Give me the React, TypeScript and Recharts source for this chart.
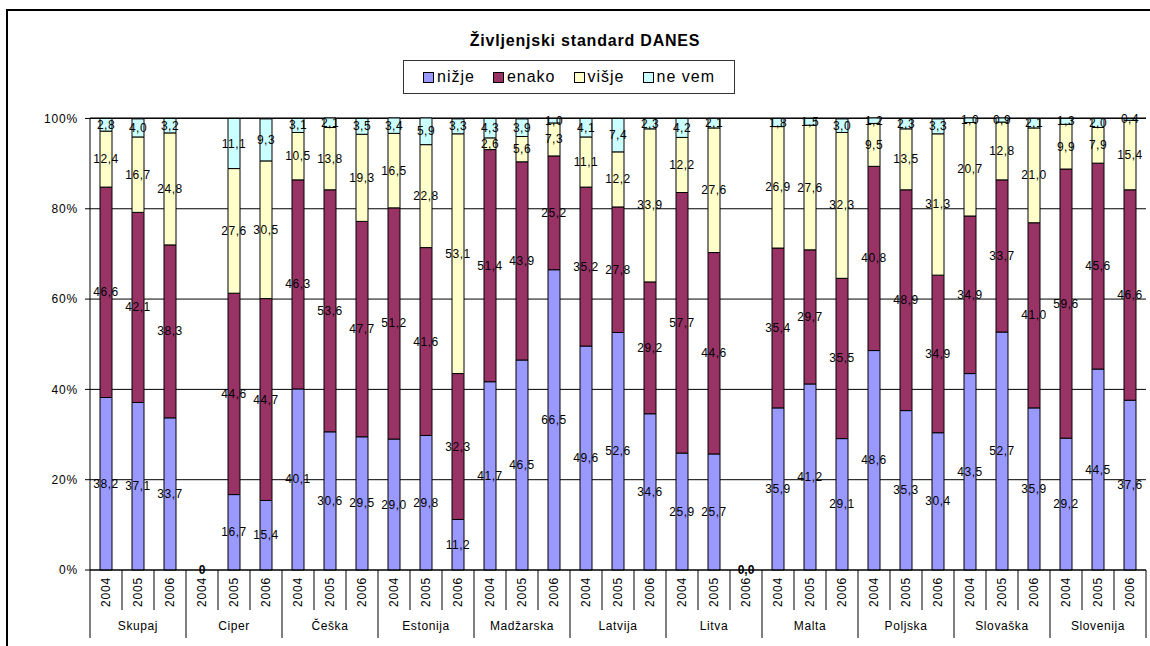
import React from "react";
import { Bar, BarChart, CartesianGrid, LabelList, XAxis, YAxis } from "recharts";

const groups = ["Skupaj", "Ciper", "Češka", "Estonija", "Madžarska", "Latvija", "Litva", "Malta", "Poljska", "Slovaška", "Slovenija"];
const years = ["2004", "2005", "2006"];

// one value per bar: group by group, years 2004-2006
const nizje = [38.2, 37.1, 33.7, 0, 16.7, 15.4, 40.1, 30.6, 29.5, 29.0, 29.8, 11.2, 41.7, 46.5, 66.5, 49.6, 52.6, 34.6, 25.9, 25.7, 0, 35.9, 41.2, 29.1, 48.6, 35.3, 30.4, 43.5, 52.7, 35.9, 29.2, 44.5, 37.6];
const enako = [46.6, 42.1, 38.3, 0, 44.6, 44.7, 46.3, 53.6, 47.7, 51.2, 41.6, 32.3, 51.4, 43.9, 25.2, 35.2, 27.8, 29.2, 57.7, 44.6, 0, 35.4, 29.7, 35.5, 40.8, 48.9, 34.9, 34.9, 33.7, 41.0, 59.6, 45.6, 46.6];
const visje = [12.4, 16.7, 24.8, 0, 27.6, 30.5, 10.5, 13.8, 19.3, 16.5, 22.8, 53.1, 2.6, 5.6, 7.3, 11.1, 12.2, 33.9, 12.2, 27.6, 0, 26.9, 27.6, 32.3, 9.5, 13.5, 31.3, 20.7, 12.8, 21.0, 9.9, 7.9, 15.4];
const neVem = [2.8, 4.0, 3.2, 0, 11.1, 9.3, 3.1, 2.1, 3.5, 3.4, 5.9, 3.3, 4.3, 3.9, 1.0, 4.1, 7.4, 2.3, 4.2, 2.1, 0, 1.8, 1.5, 3.0, 1.2, 2.3, 3.3, 1.0, 0.9, 2.1, 1.3, 2.0, 0.4];

// labels Excel shows on the empty bars
const emptyBarLabels: Record<string, string> = { "Ciper 2004": "0", "Litva 2006": "0,0" };

const yTicks = [0, 20, 40, 60, 80, 100];

const series = [
  { key: "nizje", name: "nižje", color: "#9999FF" },
  { key: "enako", name: "enako", color: "#993366" },
  { key: "visje", name: "višje", color: "#FFFFCC" },
  { key: "neVem", name: "ne vem", color: "#CCFFFF" },
];

const rows = groups.flatMap((g, gi) =>
  years.map((y, yi) => {
    const i = gi * 3 + yi;
    return { key: `${g} ${y}`, group: g, year: y, nizje: nizje[i], enako: enako[i], visje: visje[i], neVem: neVem[i] };
  })
);

const FONT = "'Liberation Sans', Arial, sans-serif";
const W = 1150;
const H = 646;
const PLOT_LEFT = 90;
const PLOT_RIGHT = 1146;
const BAND = (PLOT_RIGHT - PLOT_LEFT) / rows.length;

const fmt = (v: number) => v.toFixed(1).replace(".", ",");

function CategoryTick(props: any) {
  const { x, y, payload } = props;
  const i = payload.index;
  const row = rows[i];
  const left = x - BAND / 2;
  const right = x + BAND / 2;
  const empty = emptyBarLabels[row.key];
  return (
    <g>
      <line x1={left} y1={y} x2={left} y2={y + (i % 3 === 0 ? 68 : 40)} stroke="#000" />
      {i === rows.length - 1 && <line x1={right} y1={y} x2={right} y2={y + 68} stroke="#000" />}
      <text
        x={x + 4}
        y={y + 22}
        transform={`rotate(-90 ${x + 4} ${y + 22})`}
        textAnchor="middle"
        fontSize={12}
        letterSpacing={0.8}
        fontFamily={FONT}
        fill="#000"
      >
        {row.year}
      </text>
      {i % 3 === 1 && (
        <text x={x} y={y + 60} textAnchor="middle" fontSize={12} letterSpacing={0.6} fontFamily={FONT} fill="#000">
          {row.group}
        </text>
      )}
      {empty && (
        <text x={x} y={y + 4} textAnchor="middle" fontSize={12} fontWeight="bold" fontFamily={FONT} fill="#000">
          {empty}
        </text>
      )}
    </g>
  );
}

const makeLabel = (props: any) => {
  const { x, y, width, height, value } = props;
  if (!value) return null;
  return (
    <text
      x={x + width / 2}
      y={y + height / 2}
      textAnchor="middle"
      dominantBaseline="central"
      fontSize={12}
      letterSpacing={0.5}
      fontFamily={FONT}
      fill="#000"
    >
      {fmt(value)}
    </text>
  );
};

export default function App() {
  return (
    <div style={{ position: "absolute", left: 0, top: 0, width: W, height: H, overflow: "hidden", background: "#fff", fontFamily: FONT }}>
      <div style={{ position: "absolute", left: 6, top: 9, width: 1200, height: 700, border: "2px solid #000", boxSizing: "border-box" }} />
      <div
        style={{
          position: "absolute",
          top: 32,
          left: 385,
          width: 400,
          textAlign: "center",
          fontWeight: "bold",
          fontSize: 16,
          letterSpacing: 0.8,
        }}
      >
        Življenjski standard DANES
      </div>
      <div
        style={{
          position: "absolute",
          top: 60,
          left: 403,
          width: 332,
          height: 34,
          border: "1px solid #333",
          boxSizing: "border-box",
          display: "flex",
          alignItems: "center",
          justifyContent: "center",
          gap: 18,
          fontSize: 16,
          letterSpacing: 1,
        }}
      >
        {series.map((s) => (
          <span key={s.key} style={{ display: "flex", alignItems: "center" }}>
            <span style={{ width: 9, height: 9, background: s.color, border: "1px solid #000", marginRight: 3 }} />
            {s.name}
          </span>
        ))}
      </div>
      <div style={{ position: "absolute", left: 0, top: 0 }}>
        <BarChart width={W} height={H} data={rows} margin={{ top: 118, right: 4, left: 30, bottom: 6 }} barSize={12}>
          <CartesianGrid vertical={false} stroke="#000" />
          <YAxis
            width={60}
            domain={[0, 100]}
            ticks={yTicks}
            tickFormatter={(v: number) => `${v}%`}
            axisLine={{ stroke: "#000" }}
            tickLine={{ stroke: "#000" }}
            tickSize={5}
            tickMargin={7}
            tick={{ fontSize: 12, fill: "#000", fontFamily: FONT, letterSpacing: 0.8 }}
          />
          <YAxis yAxisId="frame" orientation="right" width={0} domain={[0, 100]} tick={false} tickLine={false} axisLine={{ stroke: "#888" }} />
          {series.map((s) => (
            <Bar key={s.key} dataKey={s.key} name={s.name} stackId="a" fill={s.color} stroke="#000" strokeWidth={1} isAnimationActive={false}>
              <LabelList dataKey={s.key} content={makeLabel} />
            </Bar>
          ))}
          <XAxis
            dataKey="key"
            interval={0}
            height={70}
            tickLine={false}
            tickSize={0}
            tickMargin={0}
            axisLine={{ stroke: "#000" }}
            tick={<CategoryTick />}
          />
        </BarChart>
      </div>
    </div>
  );
}
